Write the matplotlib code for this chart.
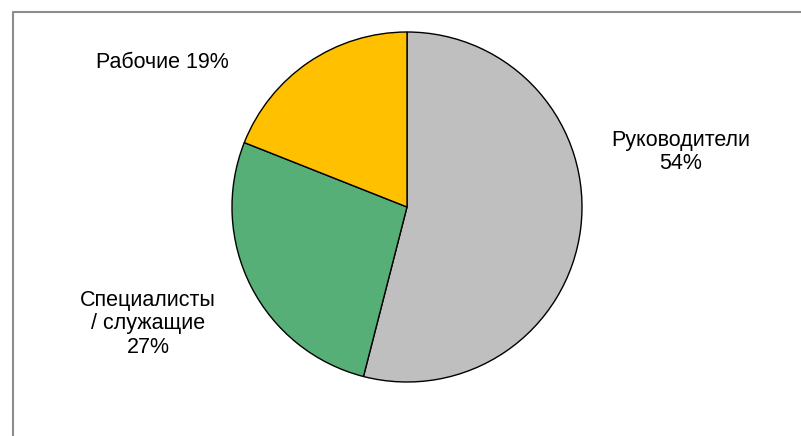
import matplotlib.pyplot as plt

labels = ["Руководители", "Специалисты\n/ служащие", "Рабочие"]
shares = [54, 27, 19]
colors = ["#BFBFBF", "#57AF78", "#FFC000"]

W, H = 801, 436
fig = plt.figure(figsize=(W / 100, H / 100), dpi=100)
ax = fig.add_axes([0, 0, 1, 1])
ax.set_xlim(0, W)
ax.set_ylim(0, H)
ax.set_aspect("equal")
ax.axis("off")

# frame: only top and left edges are visible
ax.plot([12.5, 12.5, W], [0, H - 11.5, H - 11.5], color="#8C8C8C", lw=1.5)

ax.pie(shares, colors=colors, startangle=90, counterclock=False,
       center=(407, H - 207), radius=175,
       wedgeprops=dict(edgecolor="black", linewidth=1))
ax.set_xlim(0, W)
ax.set_ylim(0, H)

fs = 15.5
ax.text(162, H - 62, f"{labels[2]} {shares[2]}%", ha="center", va="center",
        fontsize=fs, family="Liberation Sans")
ax.text(681, H - 152, f"{labels[0]}\n{shares[0]}%", ha="center", va="center",
        fontsize=fs, family="Liberation Sans", linespacing=1.15)
ax.text(148, H - 324, f"{labels[1]}\n{shares[1]}%", ha="center", va="center",
        fontsize=fs, family="Liberation Sans", linespacing=1.15)

fig.savefig("out.png", dpi=100)
